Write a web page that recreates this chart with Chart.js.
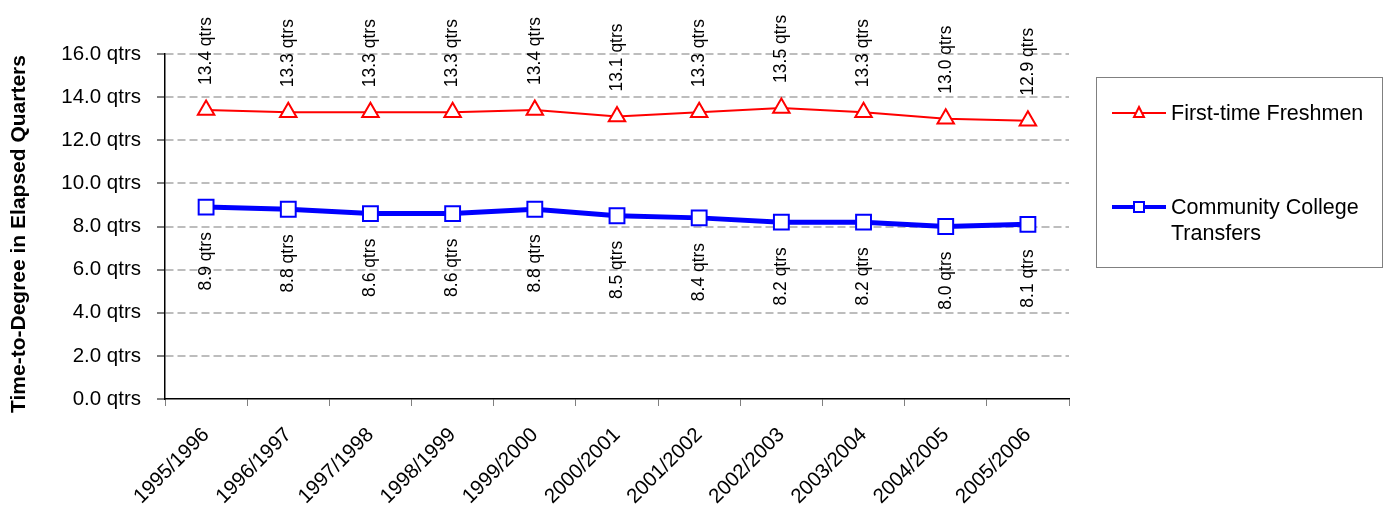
<!DOCTYPE html>
<html>
<head>
<meta charset="utf-8">
<script src="https://cdn.jsdelivr.net/npm/chart.js@4"></script>
<style>
  body { margin: 0; background: #fff; }
  #wrap { position: relative; width: 1390px; height: 506px; }
</style>
</head>
<body>
<div id="wrap"><canvas id="grafico"></canvas></div>
<script>
// datos
const anios = ['1995/1996', '1996/1997', '1997/1998', '1998/1999', '1999/2000', '2000/2001',
               '2001/2002', '2002/2003', '2003/2004', '2004/2005', '2005/2006'];
const freshmen = [13.4, 13.3, 13.3, 13.3, 13.4, 13.1, 13.3, 13.5, 13.3, 13.0, 12.9];
const transfers = [8.9, 8.8, 8.6, 8.6, 8.8, 8.5, 8.4, 8.2, 8.2, 8.0, 8.1];
const yTicks = [0, 2, 4, 6, 8, 10, 12, 14, 16];

const FONT = '"Liberation Sans", Arial, sans-serif';

// etiquetas giradas de cada punto
const etiquetasPlugin = {
  id: 'etiquetas',
  afterDatasetsDraw(chart) {
    const ctx = chart.ctx;
    ctx.save();
    ctx.font = '17.5px ' + FONT;
    ctx.fillStyle = '#000';
    ctx.textBaseline = 'middle';
    chart.data.datasets.forEach((ds, i) => {
      const meta = chart.getDatasetMeta(i);
      meta.data.forEach((pt, j) => {
        const txt = ds.data[j].toFixed(1) + ' qtrs';
        ctx.save();
        if (ds.etiqueta === 'arriba') {
          ctx.translate(pt.x, pt.y - 25);
          ctx.rotate(-Math.PI / 2);
          ctx.textAlign = 'left';
        } else {
          ctx.translate(pt.x, pt.y + 25);
          ctx.rotate(-Math.PI / 2);
          ctx.textAlign = 'right';
        }
        ctx.fillText(txt, 0, 0);
        ctx.restore();
      });
    });
    ctx.restore();
  }
};

// titulo del eje Y y leyenda con caja
const leyendaPlugin = {
  id: 'leyenda',
  afterDraw(chart) {
    const ctx = chart.ctx;
    ctx.save();

    ctx.save();
    ctx.translate(19, 234);
    ctx.rotate(-Math.PI / 2);
    ctx.font = 'bold 21px ' + FONT;
    ctx.fillStyle = '#000';
    ctx.textAlign = 'center';
    ctx.textBaseline = 'middle';
    ctx.fillText('Time-to-Degree in Elapsed Quarters', 0, 0);
    ctx.restore();

    ctx.strokeStyle = '#808080';
    ctx.lineWidth = 1;
    ctx.strokeRect(1096.5, 77.5, 286, 190);

    ctx.font = '21.5px ' + FONT;
    ctx.fillStyle = '#000';
    ctx.textBaseline = 'middle';
    ctx.textAlign = 'left';

    // First-time Freshmen
    ctx.strokeStyle = '#ff0000';
    ctx.lineWidth = 2;
    ctx.beginPath(); ctx.moveTo(1112, 113); ctx.lineTo(1166, 113); ctx.stroke();
    ctx.fillStyle = '#fff';
    ctx.beginPath();
    ctx.moveTo(1139, 107); ctx.lineTo(1144, 117); ctx.lineTo(1134, 117); ctx.closePath();
    ctx.fill(); ctx.stroke();
    ctx.fillStyle = '#000';
    ctx.fillText('First-time Freshmen', 1171, 114);

    // Community College Transfers
    ctx.strokeStyle = '#0000ff';
    ctx.lineWidth = 4;
    ctx.beginPath(); ctx.moveTo(1112, 207); ctx.lineTo(1166, 207); ctx.stroke();
    ctx.lineWidth = 2;
    ctx.fillStyle = '#fff';
    ctx.fillRect(1134, 202, 10, 10);
    ctx.strokeRect(1134, 202, 10, 10);
    ctx.fillStyle = '#000';
    ctx.fillText('Community College', 1171, 208);
    ctx.fillText('Transfers', 1171, 234);
    ctx.restore();
  }
};

const ctx = document.getElementById('grafico').getContext('2d');
new Chart(ctx, {
  type: 'line',
  data: {
    labels: anios,
    datasets: [{
      label: 'First-time Freshmen',
      data: freshmen,
      borderColor: '#ff0000',
      borderWidth: 2,
      pointStyle: 'triangle',
      pointRadius: 9.5,
      pointBorderWidth: 2,
      pointBackgroundColor: '#ffffff',
      pointBorderColor: '#ff0000',
      etiqueta: 'arriba'
    }, {
      label: 'Community College Transfers',
      data: transfers,
      borderColor: '#0000ff',
      borderWidth: 5,
      pointStyle: 'rect',
      pointRadius: 10.5,
      pointBorderWidth: 2,
      pointBackgroundColor: '#ffffff',
      pointBorderColor: '#0000ff',
      etiqueta: 'abajo'
    }]
  },
  options: {
    responsive: true,
    maintainAspectRatio: false,
    animation: false,
    layout: { padding: { left: 0, right: 321, top: 54, bottom: 0 } },
    plugins: {
      legend: { display: false },
      tooltip: { enabled: false }
    },
    scales: {
      x: {
        offset: true,
        afterFit: (scale) => { scale.height = 107; },
        grid: {
          offset: true,
          drawOnChartArea: false,
          tickLength: 7,
          tickColor: '#808080'
        },
        border: { color: '#000', width: 1.5 },
        ticks: {
          color: '#000',
          font: { family: FONT, size: 20.5 },
          minRotation: 45,
          maxRotation: 45,
          padding: 17
        }
      },
      y: {
        min: 0,
        max: 16,
        afterFit: (scale) => { scale.width = 165; },
        afterBuildTicks: (scale) => { scale.ticks = yTicks.map(v => ({ value: v })); },
        grid: {
          color: (c) => c.tick && c.tick.value === 0 ? 'rgba(0,0,0,0)' : '#bdbdbd',
          lineWidth: 2,
          tickLength: 8,
          tickColor: '#000',
          tickBorderDash: [],
          tickWidth: 1
        },
        border: { color: '#000', width: 1.5, dash: [8, 4] },
        ticks: {
          color: '#000',
          font: { family: FONT, size: 20.5 },
          padding: 16,
          callback: (v) => Number(v).toFixed(1) + ' qtrs'
        }
      }
    }
  },
  plugins: [etiquetasPlugin, leyendaPlugin]
});
</script>
</body>
</html>
